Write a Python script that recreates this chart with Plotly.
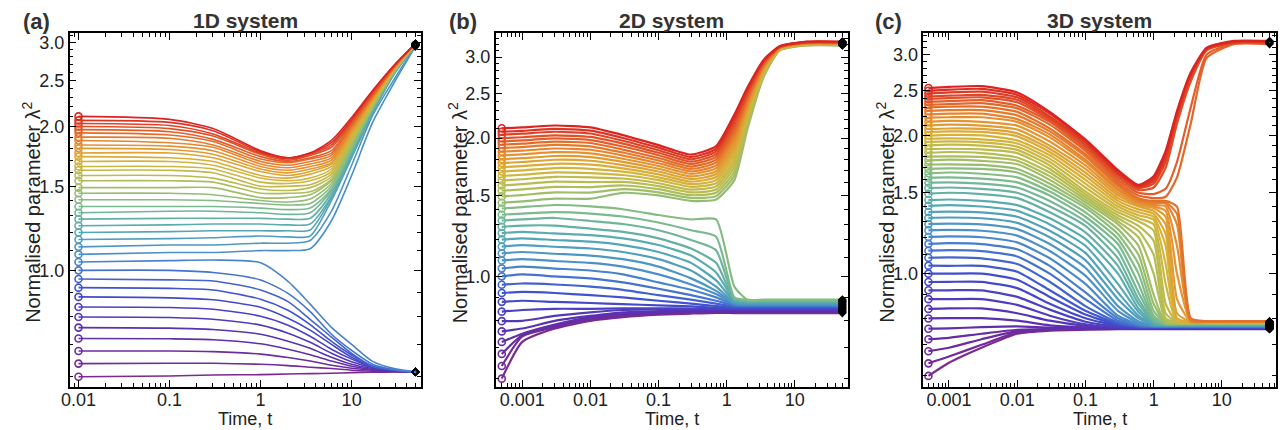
import plotly.graph_objects as go
from plotly.colors import sample_colorscale

FONT = "Liberation Sans, Arial, sans-serif"

# ---------------- 1D system ----------------
T_1D = [0.01, 0.1, 0.3, 1, 2, 3.5, 6, 10, 17, 30, 50]
# one row per run, ordered by initial value (lowest first)
LAMBDA2_1D = [
    [0.599, 0.601, 0.604, 0.605, 0.607, 0.608, 0.609, 0.611, 0.612, 0.613, 0.613],
    [0.638, 0.639, 0.639, 0.636, 0.632, 0.627, 0.623, 0.618, 0.615, 0.614, 0.613],
    [0.678, 0.678, 0.676, 0.668, 0.657, 0.646, 0.633, 0.624, 0.618, 0.615, 0.613],
    [0.720, 0.719, 0.716, 0.702, 0.684, 0.666, 0.646, 0.630, 0.620, 0.615, 0.613],
    [0.759, 0.757, 0.752, 0.735, 0.711, 0.687, 0.658, 0.636, 0.623, 0.615, 0.613],
    [0.799, 0.797, 0.790, 0.768, 0.739, 0.707, 0.671, 0.644, 0.626, 0.617, 0.613],
    [0.838, 0.836, 0.829, 0.802, 0.768, 0.728, 0.684, 0.652, 0.627, 0.617, 0.613],
    [0.880, 0.876, 0.868, 0.837, 0.794, 0.750, 0.700, 0.658, 0.629, 0.617, 0.613],
    [0.920, 0.917, 0.910, 0.870, 0.825, 0.770, 0.710, 0.665, 0.630, 0.618, 0.613],
    [0.959, 0.955, 0.950, 0.910, 0.860, 0.790, 0.725, 0.670, 0.630, 0.618, 0.613],
    [1.000, 1.000, 0.990, 0.955, 0.895, 0.820, 0.735, 0.680, 0.636, 0.619, 0.613],
    [1.041, 1.048, 1.051, 1.037, 0.948, 0.850, 0.760, 0.700, 0.645, 0.622, 0.613],
    [1.08, 1.09, 1.09, 1.10, 1.10, 1.11, 1.27, 1.58, 2.04, 2.49, 2.94],
    [1.12, 1.13, 1.13, 1.14, 1.14, 1.155, 1.33, 1.66, 2.11, 2.53, 2.95],
    [1.16, 1.165, 1.17, 1.18, 1.175, 1.18, 1.40, 1.72, 2.13, 2.59, 2.96],
    [1.20, 1.205, 1.21, 1.21, 1.21, 1.215, 1.42, 1.74, 2.14, 2.60, 2.96],
    [1.24, 1.245, 1.25, 1.25, 1.245, 1.25, 1.43, 1.75, 2.15, 2.60, 2.96],
    [1.28, 1.285, 1.285, 1.285, 1.28, 1.285, 1.45, 1.77, 2.16, 2.61, 2.96],
    [1.32, 1.33, 1.33, 1.32, 1.31, 1.32, 1.47, 1.78, 2.17, 2.61, 2.96],
    [1.36, 1.36, 1.36, 1.35, 1.34, 1.35, 1.48, 1.79, 2.18, 2.62, 2.96],
    [1.405, 1.405, 1.40, 1.38, 1.37, 1.38, 1.50, 1.81, 2.19, 2.62, 2.96],
    [1.45, 1.45, 1.44, 1.40, 1.39, 1.41, 1.52, 1.82, 2.20, 2.62, 2.96],
    [1.49, 1.49, 1.49, 1.42, 1.42, 1.44, 1.54, 1.83, 2.20, 2.63, 2.96],
    [1.54, 1.54, 1.53, 1.45, 1.45, 1.46, 1.55, 1.85, 2.21, 2.63, 2.96],
    [1.58, 1.58, 1.56, 1.48, 1.47, 1.49, 1.57, 1.86, 2.22, 2.64, 2.96],
    [1.62, 1.62, 1.60, 1.50, 1.50, 1.51, 1.59, 1.88, 2.23, 2.64, 2.97],
    [1.65, 1.65, 1.63, 1.53, 1.52, 1.54, 1.61, 1.89, 2.25, 2.64, 2.97],
    [1.69, 1.69, 1.66, 1.56, 1.54, 1.56, 1.63, 1.91, 2.25, 2.65, 2.97],
    [1.73, 1.72, 1.69, 1.58, 1.56, 1.59, 1.65, 1.92, 2.26, 2.65, 2.97],
    [1.76, 1.76, 1.72, 1.61, 1.58, 1.61, 1.67, 1.94, 2.27, 2.66, 2.97],
    [1.80, 1.79, 1.75, 1.63, 1.60, 1.63, 1.68, 1.95, 2.28, 2.66, 2.97],
    [1.83, 1.82, 1.78, 1.65, 1.62, 1.65, 1.70, 1.97, 2.29, 2.66, 2.98],
    [1.87, 1.85, 1.81, 1.67, 1.64, 1.67, 1.72, 1.98, 2.30, 2.67, 2.98],
    [1.90, 1.89, 1.83, 1.69, 1.66, 1.69, 1.74, 2.00, 2.31, 2.67, 2.98],
    [1.94, 1.92, 1.86, 1.71, 1.68, 1.71, 1.76, 2.01, 2.32, 2.68, 2.98],
    [1.97, 1.95, 1.88, 1.73, 1.69, 1.72, 1.78, 2.03, 2.33, 2.68, 2.98],
    [2.00, 1.98, 1.91, 1.75, 1.70, 1.74, 1.81, 2.04, 2.34, 2.69, 2.98],
    [2.03, 2.01, 1.93, 1.76, 1.71, 1.75, 1.83, 2.06, 2.36, 2.69, 2.98],
    [2.06, 2.04, 1.96, 1.77, 1.72, 1.76, 1.85, 2.07, 2.37, 2.70, 2.98],
    [2.10, 2.07, 1.98, 1.78, 1.72, 1.76, 1.87, 2.09, 2.38, 2.70, 2.98],
]

# ---------------- 2D system ----------------
T_2D = [0.0005, 0.001, 0.003, 0.01, 0.03, 0.1, 0.3, 0.7, 1.3, 2, 3.5, 6, 15, 50]
LAMBDA2_2D = [
    [0.599, 0.72, 0.77, 0.80, 0.815, 0.825, 0.83, 0.833, 0.832, 0.832, 0.832, 0.832, 0.832, 0.832],
    [0.638, 0.74, 0.775, 0.805, 0.82, 0.83, 0.835, 0.836, 0.835, 0.835, 0.835, 0.835, 0.835, 0.835],
    [0.678, 0.745, 0.78, 0.81, 0.823, 0.832, 0.837, 0.838, 0.838, 0.838, 0.838, 0.838, 0.838, 0.838],
    [0.72, 0.75, 0.785, 0.815, 0.828, 0.835, 0.84, 0.841, 0.841, 0.841, 0.841, 0.841, 0.841, 0.841],
    [0.759, 0.77, 0.80, 0.82, 0.835, 0.84, 0.843, 0.844, 0.844, 0.844, 0.844, 0.844, 0.844, 0.844],
    [0.799, 0.80, 0.82, 0.835, 0.845, 0.847, 0.847, 0.847, 0.847, 0.847, 0.847, 0.847, 0.847, 0.847],
    [0.838, 0.845, 0.85, 0.85, 0.852, 0.852, 0.851, 0.85, 0.85, 0.85, 0.85, 0.85, 0.85, 0.85],
    [0.88, 0.885, 0.88, 0.875, 0.87, 0.865, 0.86, 0.855, 0.853, 0.853, 0.853, 0.853, 0.853, 0.853],
    [0.92, 0.925, 0.92, 0.91, 0.90, 0.885, 0.872, 0.862, 0.856, 0.856, 0.856, 0.856, 0.856, 0.856],
    [0.959, 0.965, 0.96, 0.95, 0.935, 0.91, 0.89, 0.872, 0.86, 0.859, 0.859, 0.859, 0.859, 0.859],
    [1.0, 1.01, 1.0, 0.99, 0.97, 0.94, 0.91, 0.885, 0.865, 0.862, 0.862, 0.862, 0.862, 0.862],
    [1.041, 1.05, 1.04, 1.03, 1.01, 0.97, 0.935, 0.90, 0.868, 0.865, 0.865, 0.865, 0.865, 0.865],
    [1.083, 1.09, 1.08, 1.07, 1.05, 1.01, 0.96, 0.915, 0.872, 0.868, 0.868, 0.868, 0.868, 0.868],
    [1.122, 1.13, 1.12, 1.11, 1.09, 1.05, 0.99, 0.93, 0.876, 0.871, 0.871, 0.871, 0.871, 0.871],
    [1.161, 1.17, 1.16, 1.15, 1.13, 1.09, 1.03, 0.95, 0.88, 0.874, 0.874, 0.874, 0.874, 0.874],
    [1.202, 1.21, 1.20, 1.19, 1.17, 1.13, 1.07, 0.98, 0.885, 0.877, 0.877, 0.877, 0.877, 0.877],
    [1.242, 1.25, 1.24, 1.23, 1.21, 1.17, 1.11, 1.02, 0.89, 0.88, 0.88, 0.88, 0.88, 0.88],
    [1.282, 1.29, 1.29, 1.27, 1.25, 1.21, 1.15, 1.07, 0.89, 0.883, 0.883, 0.883, 0.883, 0.883],
    [1.323, 1.33, 1.34, 1.32, 1.30, 1.26, 1.20, 1.14, 0.895, 0.886, 0.886, 0.886, 0.886, 0.886],
    [1.362, 1.37, 1.38, 1.37, 1.35, 1.31, 1.26, 1.22, 0.90, 0.888, 0.888, 0.888, 0.888, 0.888],
    [1.405, 1.415, 1.43, 1.42, 1.40, 1.36, 1.33, 1.33, 0.95, 0.89, 0.89, 0.89, 0.89, 0.89],
    [1.446, 1.456, 1.476, 1.476, 1.52, 1.50, 1.46, 1.47, 1.62, 2.08, 2.72, 3.10, 3.18, 3.18],
    [1.493, 1.503, 1.523, 1.522, 1.548, 1.524, 1.481, 1.495, 1.655, 2.107, 2.733, 3.104, 3.185, 3.185],
    [1.536, 1.546, 1.566, 1.564, 1.577, 1.548, 1.502, 1.52, 1.69, 2.134, 2.747, 3.108, 3.19, 3.19],
    [1.577, 1.587, 1.607, 1.604, 1.605, 1.572, 1.523, 1.545, 1.725, 2.162, 2.76, 3.112, 3.19, 3.19],
    [1.617, 1.627, 1.647, 1.643, 1.633, 1.595, 1.544, 1.57, 1.76, 2.189, 2.773, 3.116, 3.195, 3.195],
    [1.654, 1.664, 1.684, 1.678, 1.662, 1.62, 1.566, 1.595, 1.795, 2.216, 2.787, 3.119, 3.20, 3.20],
    [1.691, 1.701, 1.721, 1.714, 1.69, 1.643, 1.587, 1.62, 1.83, 2.243, 2.80, 3.123, 3.20, 3.20],
    [1.728, 1.738, 1.758, 1.75, 1.718, 1.667, 1.608, 1.645, 1.865, 2.271, 2.813, 3.127, 3.205, 3.205],
    [1.764, 1.774, 1.794, 1.785, 1.746, 1.691, 1.629, 1.67, 1.90, 2.298, 2.827, 3.131, 3.21, 3.21],
    [1.798, 1.808, 1.828, 1.818, 1.775, 1.715, 1.65, 1.695, 1.935, 2.325, 2.84, 3.135, 3.21, 3.21],
    [1.833, 1.843, 1.863, 1.852, 1.803, 1.739, 1.671, 1.72, 1.97, 2.352, 2.853, 3.139, 3.215, 3.215],
    [1.868, 1.878, 1.898, 1.886, 1.832, 1.763, 1.692, 1.745, 2.005, 2.379, 2.867, 3.143, 3.22, 3.22],
    [1.902, 1.912, 1.932, 1.919, 1.86, 1.787, 1.713, 1.77, 2.04, 2.407, 2.88, 3.147, 3.22, 3.22],
    [1.935, 1.945, 1.965, 1.951, 1.888, 1.81, 1.734, 1.795, 2.075, 2.434, 2.893, 3.151, 3.225, 3.225],
    [1.966, 1.976, 1.996, 1.980, 1.917, 1.835, 1.756, 1.82, 2.11, 2.461, 2.907, 3.154, 3.23, 3.23],
    [1.998, 2.008, 2.028, 2.011, 1.945, 1.858, 1.777, 1.845, 2.145, 2.488, 2.92, 3.158, 3.23, 3.23],
    [2.034, 2.044, 2.064, 2.046, 1.973, 1.882, 1.798, 1.87, 2.18, 2.516, 2.933, 3.162, 3.235, 3.235],
    [2.064, 2.074, 2.094, 2.075, 2.001, 1.906, 1.819, 1.895, 2.215, 2.543, 2.947, 3.166, 3.24, 3.24],
    [2.10, 2.11, 2.13, 2.11, 2.03, 1.93, 1.84, 1.92, 2.25, 2.57, 2.96, 3.17, 3.245, 3.245],
]

# ---------------- 3D system ----------------
T_3D = [0.0005, 0.001, 0.003, 0.01, 0.03, 0.1, 0.3, 0.6, 1, 1.5, 2.2, 3.5, 6, 15, 50]
LAMBDA2_3D = [
    [0.599, 0.64, 0.69, 0.74, 0.752, 0.755, 0.757, 0.757, 0.757, 0.757, 0.757, 0.757, 0.757, 0.757, 0.757],
    [0.638, 0.66, 0.70, 0.745, 0.754, 0.757, 0.758, 0.758, 0.758, 0.758, 0.758, 0.758, 0.758, 0.758, 0.758],
    [0.678, 0.69, 0.72, 0.75, 0.756, 0.758, 0.759, 0.759, 0.759, 0.759, 0.759, 0.759, 0.759, 0.759, 0.759],
    [0.72, 0.725, 0.74, 0.755, 0.758, 0.76, 0.76, 0.76, 0.76, 0.76, 0.76, 0.76, 0.76, 0.76, 0.76],
    [0.759, 0.76, 0.765, 0.768, 0.763, 0.761, 0.76, 0.76, 0.76, 0.76, 0.76, 0.76, 0.76, 0.76, 0.76],
    [0.799, 0.80, 0.80, 0.79, 0.772, 0.764, 0.761, 0.761, 0.761, 0.761, 0.761, 0.761, 0.761, 0.761, 0.761],
    [0.838, 0.84, 0.84, 0.82, 0.79, 0.77, 0.762, 0.762, 0.762, 0.762, 0.762, 0.762, 0.762, 0.762, 0.762],
    [0.88, 0.88, 0.88, 0.855, 0.81, 0.776, 0.764, 0.762, 0.762, 0.762, 0.762, 0.762, 0.762, 0.762, 0.762],
    [0.92, 0.92, 0.92, 0.89, 0.835, 0.786, 0.766, 0.763, 0.763, 0.763, 0.763, 0.763, 0.763, 0.763, 0.763],
    [0.959, 0.96, 0.96, 0.93, 0.86, 0.80, 0.77, 0.764, 0.764, 0.764, 0.764, 0.764, 0.764, 0.764, 0.764],
    [1.0, 1.0, 1.0, 0.97, 0.89, 0.815, 0.774, 0.765, 0.764, 0.764, 0.764, 0.764, 0.764, 0.764, 0.764],
    [1.041, 1.04, 1.04, 1.01, 0.92, 0.83, 0.778, 0.767, 0.765, 0.765, 0.765, 0.765, 0.765, 0.765, 0.765],
    [1.083, 1.085, 1.08, 1.05, 0.96, 0.85, 0.783, 0.768, 0.766, 0.766, 0.766, 0.766, 0.766, 0.766, 0.766],
    [1.122, 1.125, 1.12, 1.09, 1.00, 0.88, 0.79, 0.77, 0.767, 0.767, 0.767, 0.767, 0.767, 0.767, 0.767],
    [1.161, 1.165, 1.16, 1.13, 1.04, 0.91, 0.80, 0.773, 0.768, 0.768, 0.768, 0.768, 0.768, 0.768, 0.768],
    [1.202, 1.205, 1.20, 1.17, 1.08, 0.95, 0.81, 0.776, 0.769, 0.769, 0.769, 0.769, 0.769, 0.769, 0.769],
    [1.242, 1.245, 1.24, 1.21, 1.12, 0.99, 0.83, 0.782, 0.77, 0.77, 0.77, 0.77, 0.77, 0.77, 0.77],
    [1.282, 1.285, 1.28, 1.25, 1.16, 1.03, 0.85, 0.788, 0.771, 0.77, 0.77, 0.77, 0.77, 0.77, 0.77],
    [1.323, 1.325, 1.32, 1.29, 1.20, 1.07, 0.88, 0.80, 0.773, 0.771, 0.771, 0.771, 0.771, 0.771, 0.771],
    [1.362, 1.365, 1.36, 1.33, 1.24, 1.11, 0.91, 0.81, 0.776, 0.772, 0.772, 0.772, 0.772, 0.772, 0.772],
    [1.405, 1.41, 1.40, 1.37, 1.28, 1.15, 0.95, 0.825, 0.778, 0.773, 0.773, 0.773, 0.773, 0.773, 0.773],
    [1.446, 1.45, 1.44, 1.41, 1.32, 1.19, 1.00, 0.84, 0.782, 0.774, 0.774, 0.774, 0.774, 0.774, 0.774],
    [1.493, 1.50, 1.49, 1.46, 1.36, 1.23, 1.04, 0.86, 0.786, 0.775, 0.775, 0.775, 0.775, 0.775, 0.775],
    [1.536, 1.54, 1.53, 1.50, 1.40, 1.27, 1.08, 0.88, 0.79, 0.776, 0.776, 0.776, 0.776, 0.776, 0.776],
    [1.577, 1.58, 1.57, 1.54, 1.44, 1.30, 1.12, 0.91, 0.795, 0.777, 0.777, 0.777, 0.777, 0.777, 0.777],
    [1.617, 1.62, 1.61, 1.58, 1.48, 1.33, 1.16, 0.95, 0.80, 0.778, 0.778, 0.778, 0.778, 0.778, 0.778],
    [1.654, 1.66, 1.65, 1.62, 1.51, 1.36, 1.19, 1.00, 0.81, 0.778, 0.778, 0.778, 0.778, 0.778, 0.778],
    [1.691, 1.695, 1.69, 1.66, 1.54, 1.39, 1.22, 1.05, 0.83, 0.779, 0.779, 0.779, 0.779, 0.779, 0.779],
    [1.728, 1.73, 1.725, 1.69, 1.57, 1.41, 1.25, 1.10, 0.86, 0.78, 0.779, 0.779, 0.779, 0.779, 0.779],
    [1.764, 1.77, 1.76, 1.73, 1.60, 1.43, 1.28, 1.15, 0.90, 0.781, 0.78, 0.78, 0.78, 0.78, 0.78],
    [1.798, 1.80, 1.795, 1.76, 1.63, 1.45, 1.30, 1.20, 1.00, 0.79, 0.78, 0.78, 0.78, 0.78, 0.78],
    [1.833, 1.84, 1.83, 1.79, 1.66, 1.47, 1.32, 1.24, 1.10, 0.80, 0.781, 0.781, 0.781, 0.781, 0.781],
    [1.868, 1.87, 1.865, 1.83, 1.69, 1.49, 1.34, 1.27, 1.18, 0.82, 0.782, 0.782, 0.782, 0.782, 0.782],
    [1.902, 1.91, 1.90, 1.86, 1.72, 1.51, 1.36, 1.30, 1.24, 0.86, 0.783, 0.782, 0.782, 0.782, 0.782],
    [1.935, 1.94, 1.93, 1.89, 1.75, 1.54, 1.38, 1.32, 1.28, 0.95, 0.784, 0.783, 0.783, 0.783, 0.783],
    [1.966, 1.97, 1.96, 1.92, 1.78, 1.57, 1.40, 1.34, 1.31, 1.05, 0.786, 0.783, 0.783, 0.783, 0.783],
    [1.998, 2.005, 2.00, 1.95, 1.81, 1.60, 1.42, 1.36, 1.33, 1.15, 0.79, 0.784, 0.784, 0.784, 0.784],
    [2.034, 2.04, 2.035, 1.99, 1.84, 1.63, 1.44, 1.38, 1.35, 1.22, 0.80, 0.784, 0.784, 0.784, 0.784],
    [2.064, 2.07, 2.065, 2.02, 1.87, 1.66, 1.46, 1.40, 1.37, 1.28, 0.82, 0.785, 0.785, 0.785, 0.785],
    [2.10, 2.11, 2.10, 2.06, 1.90, 1.69, 1.48, 1.41, 1.39, 1.33, 0.88, 0.786, 0.785, 0.785, 0.785],
    [2.14, 2.15, 2.14, 2.10, 1.94, 1.72, 1.50, 1.42, 1.40, 1.37, 1.00, 0.787, 0.786, 0.786, 0.786],
    [2.185, 2.19, 2.19, 2.14, 1.98, 1.75, 1.52, 1.43, 1.41, 1.40, 1.15, 0.788, 0.786, 0.786, 0.786],
    [2.22, 2.23, 2.23, 2.17, 2.01, 1.77, 1.53, 1.44, 1.42, 1.42, 1.28, 0.79, 0.787, 0.787, 0.787],
    [2.26, 2.27, 2.27, 2.21, 2.04, 1.80, 1.55, 1.45, 1.43, 1.43, 1.35, 0.792, 0.787, 0.787, 0.787],
    [2.30, 2.31, 2.31, 2.25, 2.07, 1.82, 1.565, 1.46, 1.44, 1.44, 1.40, 0.80, 0.788, 0.788, 0.788],
    [2.33, 2.34, 2.35, 2.29, 2.11, 1.85, 1.58, 1.48, 1.46, 1.47, 1.62, 2.12, 2.95, 3.16, 3.16],
    [2.365, 2.375, 2.385, 2.32, 2.14, 1.87, 1.60, 1.50, 1.49, 1.53, 1.75, 2.30, 3.00, 3.17, 3.17],
    [2.40, 2.41, 2.42, 2.36, 2.16, 1.89, 1.62, 1.52, 1.54, 1.70, 2.12, 2.62, 3.06, 3.18, 3.18],
    [2.43, 2.44, 2.45, 2.39, 2.18, 1.91, 1.64, 1.535, 1.57, 1.75, 2.17, 2.67, 3.08, 3.19, 3.19],
    [2.464, 2.48, 2.49, 2.42, 2.20, 1.93, 1.65, 1.545, 1.59, 1.79, 2.21, 2.70, 3.09, 3.195, 3.195],
    [2.50, 2.515, 2.525, 2.45, 2.23, 1.945, 1.665, 1.55, 1.61, 1.82, 2.24, 2.72, 3.10, 3.20, 3.20],
    [2.535, 2.55, 2.56, 2.48, 2.25, 1.96, 1.68, 1.56, 1.63, 1.85, 2.26, 2.74, 3.10, 3.21, 3.21],
]

TITLES = ["1D system", "2D system", "3D system"]
LETTERS = ["(a)", "(b)", "(c)"]
Y_TICKS = [1.0, 1.5, 2.0, 2.5, 3.0]
Y_TICKTEXT = ["1.0", "1.5", "2.0", "2.5", "3.0"]
X_TICKS_1D = [0.01, 0.1, 1, 10]
X_TICKTEXT_1D = ["0.01", "0.1", "1", "10"]
X_TICKS_23D = [0.001, 0.01, 0.1, 1, 10]
X_TICKTEXT_23D = ["0.001", "0.01", "0.1", "1", "10"]

RAINBOW = [
    [0.00, "#7a2a90"], [0.10, "#5a30b2"], [0.20, "#3f4fcf"], [0.30, "#4a8ecb"],
    [0.40, "#56aab3"], [0.50, "#7fbc8a"], [0.60, "#b2be55"], [0.70, "#d7b33a"],
    [0.80, "#e6902f"], [0.90, "#e35e29"], [1.00, "#da2421"],
]

W, H = 1286, 430
# plot-area boxes in pixels: (left, right)
BOXES = [(61, 415), (490, 845), (920.7, 1276)]
TOP, BOTTOM = 32.3, 387
X_RANGES = [[-2.098, 1.763], [-3.392, 1.783], [-3.377, 1.795]]
Y_RANGES = [[-0.2443, 0.4963], [-0.2410, 0.5292], [-0.2469, 0.5233]]

minor_x = [m * 10 ** e for e in range(-4, 2) for m in range(2, 10)]
minor_y = [0.6, 0.7, 0.8, 0.9, 1.1, 1.2, 1.3, 1.4, 1.6, 1.7, 1.8, 1.9,
           2.1, 2.2, 2.3, 2.4, 2.6, 2.7, 2.8, 2.9, 3.1, 3.2, 3.3]

fig = go.Figure()

datasets = [(T_1D, LAMBDA2_1D), (T_2D, LAMBDA2_2D), (T_3D, LAMBDA2_3D)]
for p, (t, rows) in enumerate(datasets):
    xa = "x" if p == 0 else f"x{p + 1}"
    ya = "y" if p == 0 else f"y{p + 1}"
    n = len(rows)
    cols = sample_colorscale(RAINBOW, [i / (n - 1) for i in range(n)])
    width = 1.6 if p == 0 else 2.2
    smooth = 0.7 if p == 0 else 0.55
    for i, row in enumerate(rows):
        fig.add_trace(go.Scatter(
            x=t, y=row, mode="lines", xaxis=xa, yaxis=ya,
            line=dict(color=cols[i], width=width, shape="spline", smoothing=smooth),
            showlegend=False, hoverinfo="skip"))
    fig.add_trace(go.Scatter(
        x=[t[0]] * n, y=[r[0] for r in rows], mode="markers", xaxis=xa, yaxis=ya,
        marker=dict(symbol="circle-open", size=7, color=cols, line=dict(width=1.6)),
        showlegend=False, hoverinfo="skip"))
    fig.add_trace(go.Scatter(
        x=[t[-1]] * n, y=[r[-1] for r in rows], mode="markers", xaxis=xa, yaxis=ya,
        marker=dict(symbol="diamond-open", size=5, color="black", line=dict(width=1.5)),
        showlegend=False, hoverinfo="skip"))

layout = dict(
    width=W, height=H, margin=dict(l=0, r=0, t=0, b=0),
    paper_bgcolor="white", plot_bgcolor="white",
    font=dict(family=FONT, size=18, color="#222222"),
    showlegend=False,
)

annotations = []
for p in range(3):
    left, right = BOXES[p]
    dom_x = [left / W, right / W]
    dom_y = [(H - BOTTOM) / H, (H - TOP) / H]
    xt, xl = (X_TICKS_1D, X_TICKTEXT_1D) if p == 0 else (X_TICKS_23D, X_TICKTEXT_23D)
    common = dict(
        ticks="inside", ticklen=7, tickwidth=1.2, tickcolor="black",
        showline=True, linecolor="black", linewidth=1.5, mirror="allticks",
        showgrid=False, zeroline=False,
        tickfont=dict(family=FONT, size=18, color="#222222"),
    )
    xkey = "xaxis" if p == 0 else f"xaxis{p + 1}"
    ykey = "yaxis" if p == 0 else f"yaxis{p + 1}"
    layout[xkey] = dict(
        type="log", domain=dom_x, range=X_RANGES[p], anchor="y" if p == 0 else f"y{p + 1}",
        tickmode="array", tickvals=xt, ticktext=xl, ticklabelstandoff=-4,
        minor=dict(tickmode="array", tickvals=minor_x, ticks="inside", ticklen=4,
                   tickwidth=1, tickcolor="black"),
        **common)
    layout[ykey] = dict(
        type="log", domain=dom_y, range=Y_RANGES[p], anchor="x" if p == 0 else f"x{p + 1}",
        tickmode="array", tickvals=Y_TICKS, ticktext=Y_TICKTEXT,
        minor=dict(tickmode="array", tickvals=minor_y, ticks="inside", ticklen=4,
                   tickwidth=1, tickcolor="black"),
        **common)

    cx = (left + right) / 2
    annotations.append(dict(
        text=f"<b>{TITLES[p]}</b>", x=cx / W, y=(H - 20) / H, xref="paper", yref="paper",
        showarrow=False, font=dict(family=FONT, size=21, color="#333333"),
        xanchor="center", yanchor="middle"))
    annotations.append(dict(
        text=f"<b>{LETTERS[p]}</b>", x=[27.5, 457.5, 886][p] / W, y=(H - 21) / H,
        xref="paper", yref="paper", showarrow=False,
        font=dict(family=FONT, size=22, color="#333333"),
        xanchor="center", yanchor="middle"))
    annotations.append(dict(
        text="Time, t", x=cx / W, y=(H - 419) / H, xref="paper", yref="paper",
        showarrow=False, font=dict(family=FONT, size=18, color="#222222"),
        xanchor="center", yanchor="middle"))
    annotations.append(dict(
        text="Normalised parameter λ<sup>2</sup>", x=[22.5, 452, 882.5][p] / W,
        y=(H - 212) / H, xref="paper", yref="paper", showarrow=False, textangle=-90,
        font=dict(family=FONT, size=20, color="#222222"),
        xanchor="center", yanchor="middle"))

layout["annotations"] = annotations
fig.update_layout(**layout)
fig.write_html("out.html")
